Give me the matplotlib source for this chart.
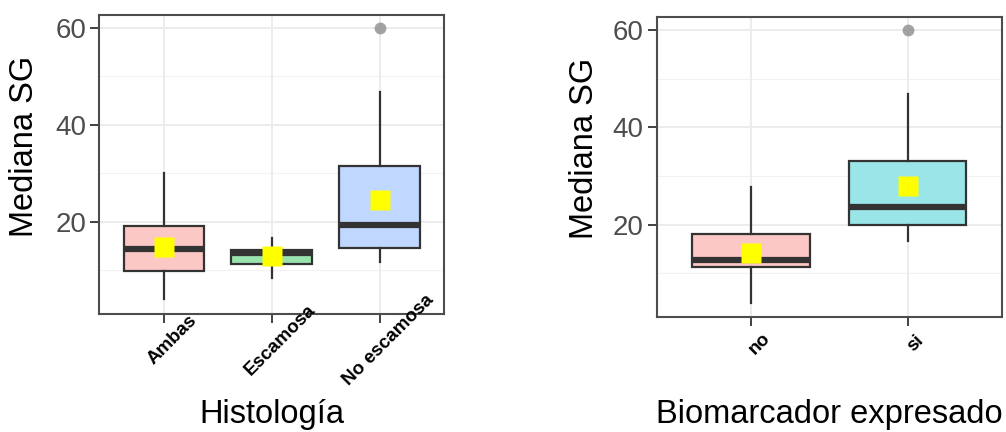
import matplotlib
matplotlib.use("Agg")
import matplotlib.pyplot as plt
from matplotlib.transforms import ScaledTranslation

plt.rcParams['font.family'] = ['Liberation Sans', 'DejaVu Sans']

# --- Datos: Histología ---
hist_cats = ['Ambas', 'Escamosa', 'No escamosa']
hist_whislo = [4.0, 8.4, 11.7]
hist_q1 = [9.8, 11.2, 14.7]
hist_med = [14.3, 13.6, 19.4]
hist_q3 = [19.1, 14.2, 31.4]
hist_whishi = [30.0, 16.6, 46.8]
hist_mean = [14.9, 12.9, 24.5]
hist_fliers = [[], [], [60.0]]
hist_colors = ['#FCC8C5', '#99E3AF', '#C0D7FF']

# --- Datos: Biomarcador ---
bio_cats = ['no', 'si']
bio_whislo = [3.9, 16.6]
bio_q1 = [11.4, 20.0]
bio_med = [12.8, 23.6]
bio_q3 = [18.2, 33.1]
bio_whishi = [27.7, 46.8]
bio_mean = [14.2, 27.9]
bio_fliers = [[], [60.0]]
bio_colors = ['#FCC8C5', '#99E5E7']

YTICKS = [20, 40, 60]
YMINOR = [10, 30, 50]


def panel(ax, cats, whislo, q1, med, q3, whishi, mean, fliers, colors,
          xlabel, ylab_x, xlab_y):
    stats = []
    for i in range(len(cats)):
        stats.append(dict(label=cats[i], whislo=whislo[i], q1=q1[i], med=med[i],
                          q3=q3[i], whishi=whishi[i], mean=mean[i], fliers=fliers[i]))
    n = len(cats)
    pos = list(range(1, n + 1))
    ax.set_xlim(0.4, n + 0.6)
    ax.set_ylim(1.0, 62.6)

    # rejilla estilo theme_bw
    for y in YTICKS:
        ax.axhline(y, color='#EBEBEB', lw=1.3, zorder=0)
    for y in YMINOR:
        ax.axhline(y, color='#F2F2F2', lw=0.8, zorder=0)
    for x in pos:
        ax.axvline(x, color='#EBEBEB', lw=1.3, zorder=0)

    bp = ax.bxp(stats, positions=pos, widths=0.75, patch_artist=True, showmeans=True,
                showcaps=False,
                boxprops=dict(edgecolor='#333333', lw=1.6),
                whiskerprops=dict(color='#333333', lw=1.6),
                medianprops=dict(color='#333333', lw=4.5, solid_capstyle='butt'),
                meanprops=dict(marker='s', markersize=14, markerfacecolor='#FFFF00',
                               markeredgecolor='none'),
                flierprops=dict(marker='o', markersize=8.5, markerfacecolor='#8C8C8C',
                                markeredgecolor='none', alpha=0.8))
    for patch, c in zip(bp['boxes'], colors):
        patch.set_facecolor(c)

    ax.set_yticks(YTICKS)
    ax.set_xticks(pos)
    ax.set_xticklabels([])
    ax.tick_params(axis='both', length=6.5, width=1.3, color='#333333',
                   labelsize=20, labelcolor='#4D4D4D', pad=3)
    for sp in ax.spines.values():
        sp.set_color('#4D4D4D')
        sp.set_linewidth(1.5)

    # etiquetas del eje x giradas 45 grados
    off = ScaledTranslation(8.5 / 100, -26 / 100, ax.figure.dpi_scale_trans)
    for x, lab in zip(pos, cats):
        ax.text(x, 0, lab, transform=ax.get_xaxis_transform() + off, rotation=45,
                rotation_mode='anchor', ha='center', va='center', fontsize=13.5,
                fontweight='bold', color='black', clip_on=False)

    ax.set_ylabel('Mediana SG', fontsize=23.5, color='black', va='center')
    ax.yaxis.set_label_coords(ylab_x, 0.562)
    ax.set_xlabel(xlabel, fontsize=23.5, color='black', va='baseline')
    ax.xaxis.set_label_coords(0.5, xlab_y)


fig = plt.figure(figsize=(10.06, 4.32), dpi=100)
ax1 = fig.add_axes([99.3 / 1006, (432 - 314) / 432, 345 / 1006, 299 / 432])
ax2 = fig.add_axes([656.7 / 1006, (432 - 317.3) / 432, 345 / 1006, 300 / 432])

panel(ax1, hist_cats, hist_whislo, hist_q1, hist_med, hist_q3, hist_whishi,
      hist_mean, hist_fliers, hist_colors, 'Histología', -0.217, -0.365)
panel(ax2, bio_cats, bio_whislo, bio_q1, bio_med, bio_q3, bio_whishi,
      bio_mean, bio_fliers, bio_colors, 'Biomarcador expresado', -0.21, -0.352)

fig.savefig('out.png', dpi=100)
